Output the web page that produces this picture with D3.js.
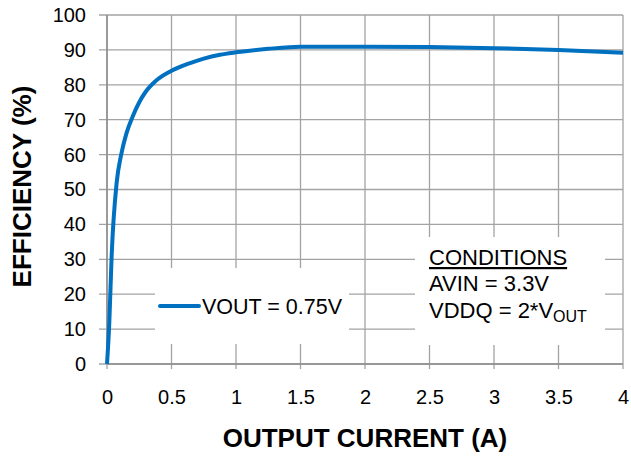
<!DOCTYPE html>
<html>
<head>
<meta charset="utf-8">
<script src="https://cdn.jsdelivr.net/npm/d3@7"></script>
<style>
  body { margin: 0; background: #fff; }
  svg { display: block; font-family: "Liberation Sans", Arial, sans-serif; }
</style>
</head>
<body>
<div id="chart"></div>
<script>
// efficiency curve
const currentA = [0, 0.018, 0.036, 0.075, 0.11, 0.15, 0.2, 0.25, 0.3, 0.375, 0.5, 0.65, 0.75, 0.875, 1, 1.25, 1.5, 2, 2.5, 3, 3.5, 4];
const efficiency = [0, 12, 31, 52, 60, 66, 71, 75, 78, 81, 84, 86.3, 87.5, 88.6, 89.3, 90.3, 90.9, 90.9, 90.8, 90.5, 90.0, 89.2];
const xTicks = [0, 0.5, 1, 1.5, 2, 2.5, 3, 3.5, 4];
const yTicks = [0, 10, 20, 30, 40, 50, 60, 70, 80, 90, 100];
const seriesLabel = "VOUT = 0.75V";
const conditions = ["AVIN = 3.3V"];

const W = 631, H = 456;
const margin = {top: 15, right: 8, bottom: 92, left: 107};
const width = W - margin.left - margin.right;
const height = H - margin.top - margin.bottom;

const svg = d3.select("#chart").append("svg")
    .attr("width", W)
    .attr("height", H);

const g = svg.append("g")
    .attr("transform", `translate(${margin.left},${margin.top})`);

const x = d3.scaleLinear().domain([0, 4]).range([0, width]);
const y = d3.scaleLinear().domain([0, 100]).range([height, 0]);

// grid lines (they stick out past the axes as tick marks)
g.selectAll(".hgrid")
    .data(yTicks)
    .enter().append("line")
    .attr("x1", -8).attr("x2", width)
    .attr("y1", d => y(d)).attr("y2", d => y(d))
    .attr("stroke", "#a3a3a3")
    .attr("stroke-width", 1.3);

g.selectAll(".vgrid")
    .data(xTicks)
    .enter().append("line")
    .attr("x1", d => x(d)).attr("x2", d => x(d))
    .attr("y1", 0).attr("y2", height + 5)
    .attr("stroke", "#a3a3a3")
    .attr("stroke-width", 1.3);

// white boxes behind legend and conditions
g.append("rect")
    .attr("x", 155 - margin.left).attr("y", 268 - margin.top)
    .attr("width", 194).attr("height", 76)
    .attr("fill", "#fff");

g.append("rect")
    .attr("x", 415 - margin.left).attr("y", 237 - margin.top)
    .attr("width", 190).attr("height", 108)
    .attr("fill", "#fff");

// axis lines
g.append("line")
    .attr("x1", 0).attr("x2", width)
    .attr("y1", height).attr("y2", height)
    .attr("stroke", "#8c8c8c").attr("stroke-width", 1.5);
g.append("line")
    .attr("x1", 0).attr("x2", 0)
    .attr("y1", 0).attr("y2", height)
    .attr("stroke", "#8c8c8c").attr("stroke-width", 1.5);

// tick labels
const xAxis = g.append("g")
    .attr("transform", `translate(0,${height})`)
    .call(d3.axisBottom(x).tickValues(xTicks).tickSize(0).tickPadding(26).tickFormat(d3.format("")));
const yAxis = g.append("g")
    .call(d3.axisLeft(y).tickValues(yTicks).tickSize(0).tickPadding(21));

[xAxis, yAxis].forEach(a => {
    a.select(".domain").remove();
    a.selectAll("text")
        .attr("fill", "#000")
        .style("font-size", "20px")
        .style("font-family", "'Liberation Sans', Arial, sans-serif");
});

// curve
const line = d3.line()
    .x((d, i) => x(currentA[i]))
    .y(d => y(d))
    .curve(d3.curveMonotoneX);

g.append("path")
    .datum(efficiency)
    .attr("fill", "none")
    .attr("stroke", "#0070c0")
    .attr("stroke-width", 4)
    .attr("stroke-linejoin", "round")
    .attr("d", line);

// legend
svg.append("line")
    .attr("x1", 160).attr("x2", 199)
    .attr("y1", 306).attr("y2", 306)
    .attr("stroke", "#0070c0")
    .attr("stroke-width", 4)
    .attr("stroke-linecap", "round");
svg.append("text")
    .attr("x", 202).attr("y", 314)
    .style("font-size", "21.5px")
    .text(seriesLabel);

// conditions block
const cond = svg.append("text").style("font-size", "22px");
cond.append("tspan")
    .attr("x", 429).attr("y", 265)
    .style("text-decoration", "underline")
    .text("CONDITIONS");
cond.append("tspan")
    .attr("x", 429).attr("y", 291)
    .text(conditions[0]);
const vddq = svg.append("text")
    .attr("x", 429).attr("y", 318)
    .style("font-size", "22px");
vddq.append("tspan").text("VDDQ = 2*V");
vddq.append("tspan")
    .attr("dy", 4)
    .style("font-size", "16px")
    .text("OUT");

// axis titles
svg.append("text")
    .attr("x", margin.left + width / 2)
    .attr("y", 447)
    .attr("text-anchor", "middle")
    .style("font-size", "26px")
    .style("font-weight", "bold")
    .text("OUTPUT CURRENT (A)");

svg.append("text")
    .attr("transform", `translate(31,${margin.top + height / 2 - 3}) rotate(-90)`)
    .attr("text-anchor", "middle")
    .style("font-size", "26px")
    .style("font-weight", "bold")
    .text("EFFICIENCY (%)");
</script>
</body>
</html>
